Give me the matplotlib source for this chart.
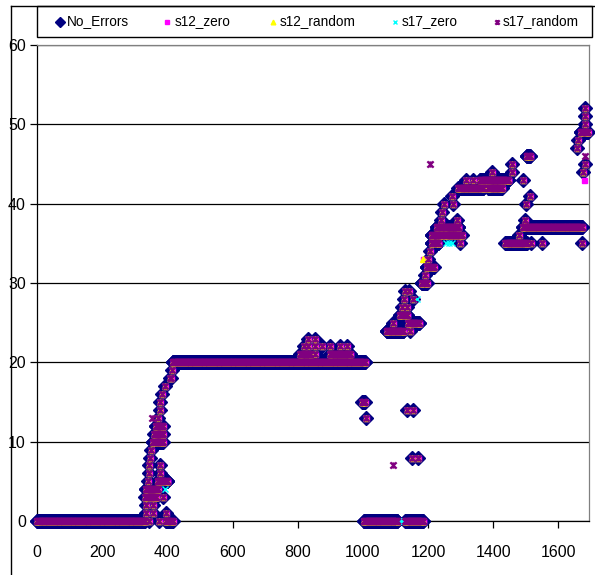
import numpy as np
import matplotlib
matplotlib.use("Agg")
import matplotlib.pyplot as plt
from matplotlib.lines import Line2D
from matplotlib.patches import Rectangle
from matplotlib.path import Path

plt.rcParams['font.family'] = ['Liberation Sans', 'DejaVu Sans']

# shared trace: runs of constant value (start, end, value), one sample per step
run_start = [0, 345, 374, 396, 335, 355, 396, 335, 355, 332, 386, 335, 340, 370,
             343, 376, 343, 376, 348, 350, 355, 360, 365, 370, 376, 378, 384, 394,
             408, 411, 414, 416,
             808, 854, 900, 818, 833, 854, 874, 900, 930, 950, 833, 854,
             998, 1010, 1004, 1130, 1134, 1154, 1150, 1170,
             1073, 1145, 1094, 1140, 1114, 1120, 1135, 1125, 1155, 1130, 1142,
             1181, 1191, 1196, 1200, 1206, 1211, 1298, 1211, 1252, 1227, 1240, 1288,
             1242, 1250, 1277, 1274, 1293, 1385, 1315, 1338, 1360, 1490, 1395, 1458,
             1458, 1503,
             1512, 1500, 1498, 1491, 1480, 1437, 1516, 1549, 1672,
             1682, 1682, 1682, 1668, 1660, 1658, 1683, 1677]
run_end = [330, 345, 374, 416, 335, 355, 396, 335, 355, 365, 386, 370, 340, 400,
           343, 376, 343, 376, 348, 350, 386, 386, 386, 370, 376, 378, 384, 394,
           408, 411, 414, 1007,
           839, 854, 961, 818, 833, 854, 874, 900, 930, 950, 833, 854,
           1006, 1010, 1106, 1185, 1134, 1154, 1150, 1170,
           1124, 1145, 1094, 1172, 1135, 1120, 1135, 1125, 1155, 1130, 1142,
           1196, 1191, 1217, 1200, 1206, 1232, 1298, 1242, 1303, 1293, 1240, 1288,
           1242, 1250, 1277, 1274, 1370, 1426, 1315, 1338, 1446, 1490, 1395, 1458,
           1458, 1513,
           1512, 1500, 1498, 1672, 1480, 1503, 1516, 1549, 1672,
           1682, 1682, 1682, 1690, 1660, 1658, 1683, 1677]
run_value = [0, 0, 0, 0, 1, 1, 1, 2, 2, 3, 3, 4, 5, 5,
             6, 6, 7, 7, 8, 9, 10, 11, 12, 13, 14, 15, 16, 17,
             18, 18, 19, 20,
             21, 21, 21, 22, 22, 22, 22, 22, 22, 22, 23, 23,
             15, 13, 0, 0, 14, 14, 8, 8,
             24, 24, 25, 25, 26, 27, 27, 28, 28, 29, 29,
             30, 31, 32, 33, 34, 35, 35, 36, 36, 37, 38, 38,
             39, 40, 40, 41, 42, 42, 43, 43, 43, 43, 44, 44,
             45, 46,
             41, 40, 38, 37, 36, 35, 35, 35, 35,
             52, 51, 50, 49, 48, 47, 45, 44]

# points where single series differ from the shared trace
s12_zero_x = [1185, 1190, 1678]
s12_zero_y = [33, 31, 43]
s12_random_x = [343, 365, 376, 376, 1185, 1478, 1677]
s12_random_y = [7, 12, 12, 14, 33, 36, 44]
s17_zero_run = [1108, 1128]
s17_zero_x = [394, 1167, 1255, 1265, 1275]
s17_zero_y = [4, 28, 35, 35, 35]
s17_random_x = [352, 1094, 1206, 1683]
s17_random_y = [13, 7, 45, 46]

base_x = np.concatenate([np.arange(a, b + 1) for a, b in zip(run_start, run_end)])
base_y = np.concatenate([np.full(b - a + 1, v) for a, b, v in zip(run_start, run_end, run_value)])

star = Path([(-1, -1), (1, 1), (-1, 1), (1, -1), (0, -1), (0, 1)],
            [Path.MOVETO, Path.LINETO, Path.MOVETO, Path.LINETO, Path.MOVETO, Path.LINETO])

series = [
    ("No_Errors", base_x, base_y, dict(marker='D', ms=6.8, mfc='#000080', mec='#000080')),
    ("s12_zero", np.r_[base_x, s12_zero_x], np.r_[base_y, s12_zero_y],
     dict(marker='s', ms=3.6, mfc='#FF00FF', mec='#FF00FF')),
    ("s12_random", np.r_[base_x, s12_random_x], np.r_[base_y, s12_random_y],
     dict(marker='^', ms=4.8, mfc='#FFFF00', mec='#FFFF00')),
    ("s17_zero", np.r_[base_x, np.arange(s17_zero_run[0], s17_zero_run[1] + 1), s17_zero_x],
     np.r_[base_y, np.zeros(s17_zero_run[1] - s17_zero_run[0] + 1), s17_zero_y],
     dict(marker='x', ms=4.0, mec='#00FFFF', mew=1.0)),
    ("s17_random", np.r_[base_x, s17_random_x], np.r_[base_y, s17_random_y],
     dict(marker=star, ms=4.5, mec='#800080', mew=1.6)),
]

fig = plt.figure(figsize=(5.95, 5.75), dpi=100)
ax = fig.add_axes([37 / 595, 54 / 575, (589 - 37) / 595, (521 - 45) / 575])

for name, xs, ys, style in series:
    ax.plot(xs, ys, linestyle='none', clip_on=False, zorder=3, **style)

ax.set_xlim(0, 1694)
ax.set_ylim(0, 60)
ax.set_xticks(range(0, 1601, 200))
ax.set_yticks(range(0, 61, 10))
ax.yaxis.grid(True, color='black', linewidth=0.9)
ax.set_axisbelow(True)
for side in ['top', 'right']:
    ax.spines[side].set_color('#808080')
    ax.spines[side].set_linewidth(0.9)
for side in ['left', 'bottom']:
    ax.spines[side].set_color('black')
    ax.spines[side].set_linewidth(0.9)
ax.tick_params(direction='out', length=5, width=0.9, labelsize=11.5, pad=3)
ax.tick_params(axis='x', pad=12)

# chart frame and legend box
fig.add_artist(Line2D([11 / 595, 11 / 595], [0, 1 - 6 / 575], transform=fig.transFigure,
                      color='black', lw=1))
fig.add_artist(Line2D([11 / 595, 1], [1 - 6 / 575, 1 - 6 / 575], transform=fig.transFigure,
                      color='black', lw=1))
fig.add_artist(Rectangle((37 / 595, 1 - 37 / 575), (592 - 37) / 595, 31 / 575,
                         transform=fig.transFigure, fill=False, edgecolor='black', lw=1))

# legend entries placed like the Excel legend
leg_marker_px = [60, 167, 273, 395, 497]
leg_text_px = [67, 175, 280, 402, 503]
leg_y = 1 - 21.5 / 575
for (name, _, _, style), mx, tx in zip(series, leg_marker_px, leg_text_px):
    st = dict(style)
    st['ms'] = style['ms'] * 0.7
    fig.add_artist(Line2D([mx / 595], [leg_y], transform=fig.transFigure, linestyle='none', **st))
    fig.text(tx / 595, leg_y, name, fontsize=9.8, va='center', ha='left')

fig.savefig("out.png", dpi=100)
